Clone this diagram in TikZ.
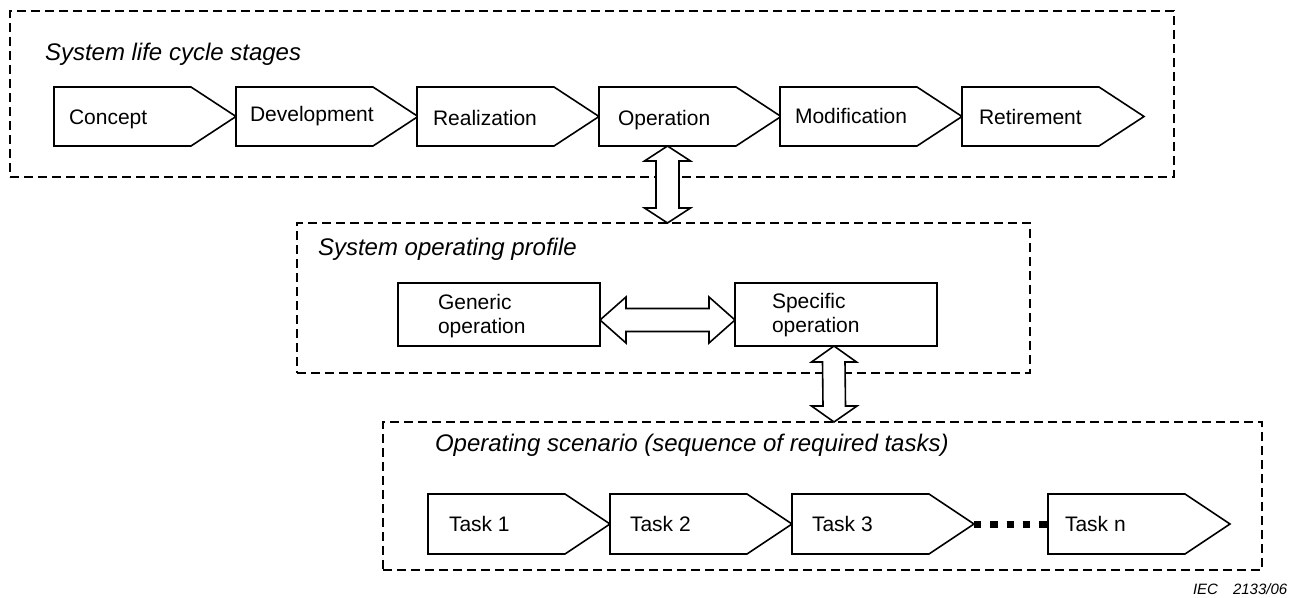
\documentclass[tikz,border=0pt]{standalone}
\usepackage{fontspec}
\setmainfont{Liberation Sans}
\usetikzlibrary{calc}
\tikzset{
  every node/.style={inner sep=0pt, outer sep=0pt},
  dashbox/.style={draw, line width=2.3pt, dash pattern=on 9pt off 5pt, anchor=north west},
  stagebox/.style={minimum width=182pt, minimum height=59pt, anchor=west},
  taskbox/.style={minimum width=182pt, minimum height=60pt, anchor=west},
  shapeline/.style={draw, line width=1.6pt, line join=miter, fill=white},
  opbox/.style={draw, line width=1.6pt, fill=white, minimum width=202pt, minimum height=63pt, anchor=north west},
  lbl/.style={font=\fontsize{21}{24}\selectfont, anchor=base west},
  ttl/.style={font=\fontsize{24}{28}\selectfont\itshape, anchor=base west},
  dbl/.style={draw, line width=1.6pt, fill=white, line join=miter},
  dotline/.style={line width=7pt, dash pattern=on 7.3pt off 9pt},
}
\begin{document}
\begin{tikzpicture}[x=1pt,y=-1pt]
\useasboundingbox[fill=white] (0,0) rectangle (1306,597);

% dashed frames
\node[dashbox, minimum width=1164pt, minimum height=166pt] (life) at (10,11) {};
\node[dashbox, minimum width=733pt, minimum height=150pt] (profile) at (297,223) {};
\node[dashbox, minimum width=879pt, minimum height=148pt] (scen) at (383,422) {};

% titles
\node[ttl] (life-t) at (45,60) {System life cycle stages};
\node[ttl] (profile-t) at (318,255) {System operating profile};
\node[ttl] (scen-t) at (435,451) {Operating scenario (sequence of required tasks)};

% life cycle stages
\foreach \n/\x in {concept/54, devel/236, real/417, oper/599, modif/780, retir/962}{
  \node[stagebox] (\n) at (\x,116.5) {};
  \draw[shapeline] (\n.north west) -- ([xshift=137pt]\n.north west) -- (\n.east)
    -- ([xshift=137pt]\n.south west) -- (\n.south west) -- cycle;
}
\foreach \n/\x/\b/\t in {concept/69/124/Concept, devel/250/121.7/Development, real/433/125/Realization,
  oper/618/125/Operation, modif/795/123.3/Modification, retir/979/124/Retirement}{
  \node[lbl] (\n-t) at (\x,\b) {\t};
}

% operating profile
\node[opbox] (gen) at (398,283) {};
\node[opbox] (spec) at (735,283) {};
\node[lbl, anchor=west, align=left] (gen-t) at (438,316) {Generic\\operation};
\node[lbl, anchor=west, align=left] (spec-t) at (772,315) {Specific\\operation};

% tasks
\foreach \n/\x in {t1/428, t2/610, t3/792, tn/1048}{
  \node[taskbox] (\n) at (\x,524) {};
  \draw[shapeline] (\n.north west) -- ([xshift=137pt]\n.north west) -- (\n.east)
    -- ([xshift=137pt]\n.south west) -- (\n.south west) -- cycle;
}
\foreach \n/\x/\t in {t1/449/Task 1, t2/630/Task 2, t3/812/Task 3, tn/1065/Task n}{
  \node[lbl] (\n-t) at (\x,531.5) {\t};
}
\draw[dotline] (t3.east) -- (tn.west);

% double arrows
\coordinate (a1top) at ([xshift=68.5pt]oper.south west);
\coordinate (a1bot) at (a1top |- profile.north);
\draw[dbl] (a1top) -- ++(23,15) -- ++(-11.5,0) -- ([shift={(11.5,-15)}]a1bot) -- ++(11.5,0)
  -- (a1bot) -- ++(-23,-15) -- ++(11.5,0) -- ([shift={(-11.5,15)}]a1top) -- ++(-11.5,0) -- cycle;

\coordinate (a2top) at ([xshift=-2pt]spec.south);
\coordinate (a2bot) at (a2top |- scen.north);
\draw[dbl] (a2top) -- ++(22.5,16) -- ++(-11.5,0) -- ([shift={(11.5,-16)}]a2bot) -- ++(11.5,0)
  -- (a2bot) -- ++(-22.5,-16) -- ++(11.5,0) -- ([shift={(-11.5,16)}]a2top) -- ++(-11,0) -- cycle;

\coordinate (hl) at ([yshift=-5.5pt]gen.east);
\coordinate (hr) at ([yshift=-5.5pt]spec.west);
\draw[dbl] (hl) -- ++(26,-23) -- ++(0,11.5) -- ([shift={(-26,-11.5)}]hr) -- ++(0,-11.5)
  -- (hr) -- ++(-26,23) -- ++(0,-11.5) -- ([shift={(26,11.5)}]hl) -- ++(0,11.5) -- cycle;

% figure reference
\node[font=\fontsize{15}{18}\selectfont\itshape, anchor=base west] (iec) at (1193,594) {IEC\hspace{15pt}2133/06};
\end{tikzpicture}
\end{document}
